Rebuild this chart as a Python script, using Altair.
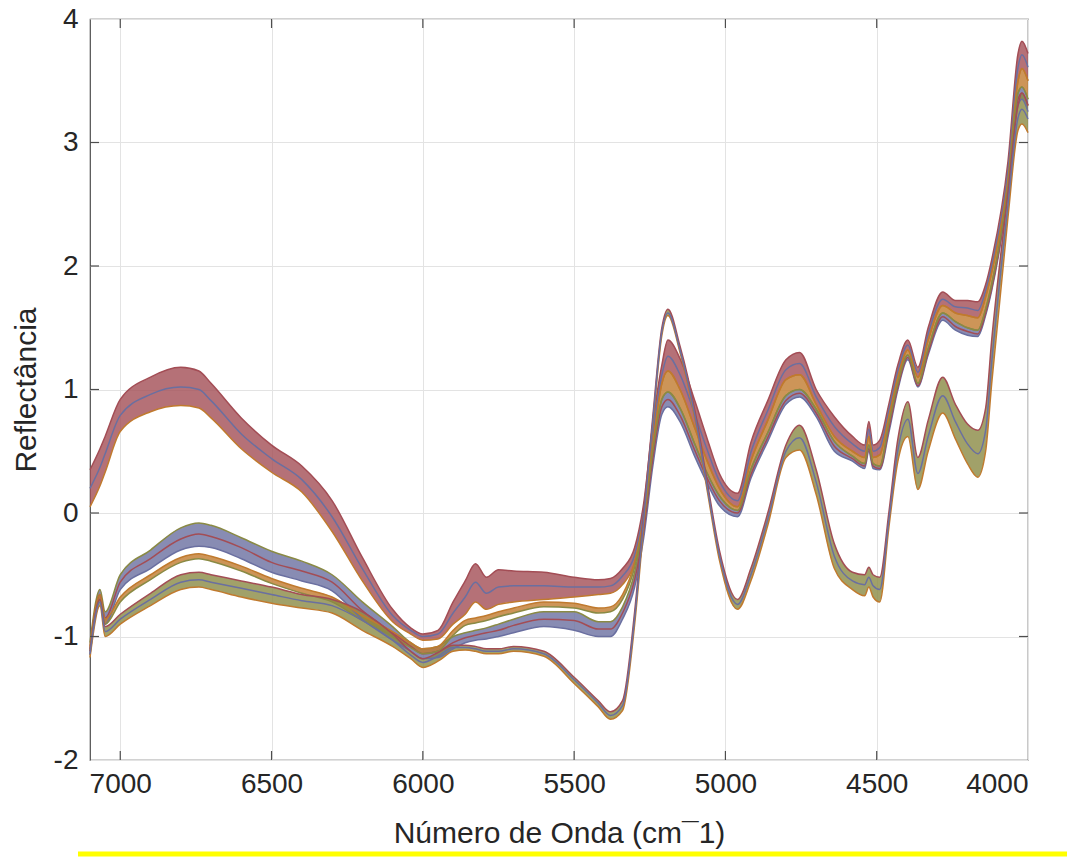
import altair as alt
import pandas as pd

# Wavenumber grid (cm^-1)
WN = [7100, 7067, 7050, 7000, 6900, 6800, 6740, 6700, 6600, 6500, 6400, 6300, 6200, 6100,
      6040, 6000, 5950, 5900, 5860, 5826, 5790, 5750, 5700, 5600, 5500, 5420, 5380, 5340,
      5300, 5270, 5240, 5210, 5190, 5150, 5100, 5060, 5020, 4960, 4916, 4860, 4800, 4755,
      4700, 4640, 4580, 4540, 4526, 4512, 4490, 4460, 4430, 4397, 4364, 4330, 4282, 4240,
      4200, 4166, 4140, 4120, 4066, 4033, 4020, 4000]

# Group A: high on the left, upper cluster with the 5830 bump, top of the upper group on the right
A_HI = [0.35, 0.52, 0.62, 0.92, 1.10, 1.18, 1.15, 1.05, 0.77, 0.55, 0.38, 0.10, -0.36, -0.78,
        -0.93, -0.98, -0.95, -0.72, -0.55, -0.41, -0.52, -0.46, -0.47, -0.48, -0.52, -0.54, -0.53, -0.45,
        -0.28, 0.08, 0.72, 1.20, 1.40, 1.25, 0.90, 0.60, 0.32, 0.16, 0.57, 0.91, 1.24, 1.30,
        1.00, 0.78, 0.62, 0.55, 0.74, 0.55, 0.59, 0.88, 1.20, 1.40, 1.18, 1.50, 1.79, 1.72,
        1.72, 1.71, 1.85, 2.05, 2.85, 3.72, 3.82, 3.72]
A_MID = [0.20, 0.37, 0.48, 0.79, 0.96, 1.02, 1.00, 0.91, 0.64, 0.44, 0.27, -0.03, -0.45, -0.83,
         -0.95, -1.00, -0.98, -0.81, -0.68, -0.56, -0.65, -0.60, -0.59, -0.59, -0.60, -0.60, -0.59, -0.51,
         -0.34, 0.02, 0.63, 1.12, 1.27, 1.12, 0.79, 0.51, 0.26, 0.10, 0.49, 0.83, 1.16, 1.21,
         0.94, 0.70, 0.56, 0.50, 0.68, 0.50, 0.53, 0.83, 1.15, 1.36, 1.14, 1.45, 1.73, 1.67,
         1.66, 1.64, 1.80, 2.00, 2.77, 3.61, 3.71, 3.61]
A_LO = [0.05, 0.22, 0.33, 0.66, 0.82, 0.87, 0.85, 0.77, 0.52, 0.33, 0.17, -0.15, -0.55, -0.88,
        -0.98, -1.03, -1.02, -0.90, -0.82, -0.72, -0.78, -0.74, -0.72, -0.70, -0.68, -0.66, -0.65, -0.58,
        -0.40, -0.05, 0.55, 1.05, 1.15, 1.00, 0.68, 0.42, 0.20, 0.05, 0.42, 0.75, 1.08, 1.12,
        0.88, 0.62, 0.50, 0.45, 0.62, 0.45, 0.47, 0.78, 1.10, 1.32, 1.10, 1.40, 1.68, 1.62,
        1.60, 1.58, 1.75, 1.95, 2.70, 3.50, 3.60, 3.50]

# Group B1: upper lower-left cluster, lower cluster in the middle, bottom of the upper group on the right
B1_HI = [-1.05, -0.62, -0.80, -0.50, -0.30, -0.12, -0.08, -0.10, -0.20, -0.31, -0.39, -0.50, -0.72, -0.92,
         -1.05, -1.10, -1.08, -1.00, -0.97, -0.95, -0.93, -0.90, -0.86, -0.80, -0.80, -0.88, -0.88, -0.76,
         -0.48, -0.08, 0.50, 0.92, 0.98, 0.85, 0.55, 0.32, 0.14, 0.02, 0.35, 0.65, 0.95, 1.00,
         0.84, 0.58, 0.46, 0.40, 0.55, 0.40, 0.38, 0.72, 1.05, 1.28, 1.05, 1.33, 1.62, 1.55,
         1.50, 1.48, 1.65, 1.85, 2.65, 3.40, 3.45, 3.35]
B1_MID = [-1.10, -0.66, -0.85, -0.56, -0.37, -0.21, -0.17, -0.19, -0.28, -0.40, -0.47, -0.56, -0.79, -0.97,
          -1.08, -1.14, -1.12, -1.05, -1.01, -0.99, -0.97, -0.95, -0.91, -0.86, -0.87, -0.94, -0.94, -0.81,
          -0.54, -0.14, 0.44, 0.86, 0.92, 0.79, 0.50, 0.28, 0.10, 0.00, 0.31, 0.61, 0.91, 0.97,
          0.81, 0.54, 0.44, 0.38, 0.52, 0.38, 0.36, 0.68, 1.02, 1.26, 1.03, 1.30, 1.59, 1.51,
          1.47, 1.45, 1.62, 1.82, 2.62, 3.35, 3.40, 3.30]
B1_LO = [-1.15, -0.70, -0.90, -0.62, -0.45, -0.30, -0.27, -0.28, -0.37, -0.48, -0.55, -0.63, -0.86, -1.03,
         -1.12, -1.18, -1.17, -1.10, -1.05, -1.03, -1.02, -1.00, -0.97, -0.92, -0.95, -1.00, -1.00, -0.86,
         -0.60, -0.20, 0.38, 0.80, 0.86, 0.74, 0.45, 0.24, 0.06, -0.03, 0.28, 0.58, 0.88, 0.94,
         0.78, 0.50, 0.42, 0.36, 0.50, 0.36, 0.35, 0.65, 1.00, 1.24, 1.02, 1.28, 1.56, 1.48,
         1.44, 1.43, 1.60, 1.80, 2.60, 3.30, 3.35, 3.25]

# Group B2: single band on the left and in the middle, middle of the upper group on the right
B2_HI = [-1.08, -0.66, -0.86, -0.68, -0.50, -0.36, -0.33, -0.35, -0.43, -0.53, -0.61, -0.68, -0.83, -0.96,
         -1.05, -1.10, -1.08, -0.95, -0.87, -0.85, -0.83, -0.80, -0.77, -0.72, -0.73, -0.77, -0.76, -0.66,
         -0.40, -0.03, 0.55, 1.05, 1.15, 1.00, 0.68, 0.42, 0.20, 0.05, 0.42, 0.75, 1.08, 1.12,
         0.88, 0.62, 0.50, 0.45, 0.62, 0.45, 0.47, 0.78, 1.10, 1.32, 1.10, 1.40, 1.68, 1.62,
         1.60, 1.58, 1.75, 1.95, 2.70, 3.50, 3.60, 3.50]
B2_LO = [-1.12, -0.70, -0.90, -0.72, -0.54, -0.40, -0.37, -0.39, -0.47, -0.57, -0.65, -0.72, -0.87, -1.00,
         -1.09, -1.14, -1.12, -0.99, -0.91, -0.89, -0.87, -0.84, -0.81, -0.76, -0.77, -0.81, -0.80, -0.70,
         -0.44, -0.07, 0.50, 0.92, 0.98, 0.85, 0.55, 0.32, 0.14, 0.02, 0.35, 0.65, 0.95, 1.00,
         0.84, 0.58, 0.46, 0.40, 0.55, 0.40, 0.38, 0.72, 1.05, 1.28, 1.05, 1.33, 1.62, 1.55,
         1.50, 1.48, 1.65, 1.85, 2.65, 3.40, 3.45, 3.35]

# Group C: lower cluster on the left, deep trough at 5380, lower group on the right
C_HI = [-1.12, -0.70, -0.92, -0.82, -0.65, -0.50, -0.48, -0.50, -0.55, -0.60, -0.66, -0.70, -0.80, -0.98,
        -1.12, -1.18, -1.13, -1.07, -1.07, -1.08, -1.10, -1.10, -1.08, -1.12, -1.33, -1.52, -1.61, -1.52,
        -0.80, 0.00, 0.78, 1.50, 1.65, 1.35, 0.82, 0.25, -0.30, -0.70, -0.45, 0.00, 0.55, 0.71,
        0.35, -0.25, -0.48, -0.50, -0.44, -0.50, -0.52, 0.00, 0.60, 0.90, 0.45, 0.75, 1.10, 0.88,
        0.72, 0.67, 0.85, 1.40, 2.60, 3.30, 3.40, 3.30]
C_MID = [-1.14, -0.72, -0.96, -0.86, -0.70, -0.56, -0.54, -0.56, -0.61, -0.66, -0.71, -0.75, -0.87, -1.03,
         -1.15, -1.21, -1.16, -1.09, -1.09, -1.10, -1.12, -1.12, -1.10, -1.14, -1.35, -1.54, -1.64, -1.56,
         -0.85, -0.05, 0.74, 1.47, 1.62, 1.32, 0.78, 0.21, -0.34, -0.74, -0.50, -0.05, 0.50, 0.61,
         0.25, -0.35, -0.55, -0.58, -0.52, -0.59, -0.62, -0.06, 0.51, 0.76, 0.32, 0.62, 0.95, 0.74,
         0.56, 0.48, 0.67, 1.22, 2.50, 3.20, 3.27, 3.19]
C_LO = [-1.17, -0.75, -1.00, -0.90, -0.75, -0.62, -0.60, -0.62, -0.68, -0.73, -0.77, -0.81, -0.95, -1.08,
        -1.18, -1.25, -1.20, -1.12, -1.11, -1.12, -1.14, -1.14, -1.12, -1.16, -1.38, -1.57, -1.67, -1.60,
        -0.90, -0.10, 0.70, 1.44, 1.60, 1.30, 0.75, 0.18, -0.38, -0.78, -0.55, -0.10, 0.45, 0.51,
        0.15, -0.45, -0.62, -0.67, -0.60, -0.68, -0.72, -0.12, 0.42, 0.62, 0.19, 0.50, 0.81, 0.60,
        0.40, 0.29, 0.50, 1.05, 2.40, 3.10, 3.15, 3.08]

GROUPS = ["A", "B1", "B2", "C"]
HI = {"A": A_HI, "B1": B1_HI, "B2": B2_HI, "C": C_HI}
LO = {"A": A_LO, "B1": B1_LO, "B2": B2_LO, "C": C_LO}
MID = {"A": A_MID, "B1": B1_MID, "C": C_MID}

SERIES_COLORS = {
    "A hi": "#7E2F8E", "A mid": "#77AC30", "A lo": "#0072BD",
    "B1 hi": "#4DBEEE", "B1 mid": "#D95319", "B1 lo": "#0072BD",
    "B2 hi": "#EDB120", "B2 lo": "#A2142F",
    "C hi": "#77AC30", "C mid": "#0072BD", "C lo": "#7E2F8E",
}
BAND_COLORS = {"A": "#a34d55", "B1": "#6a6fa0", "B2": "#c07a2e", "C": "#8a8a44"}

X_TICKS = [7000, 6500, 6000, 5500, 5000, 4500, 4000]
Y_TICKS = [-2, -1, 0, 1, 2, 3, 4]
INNER_X = [7000, 6500, 6000, 5500, 5000, 4500]
INNER_Y = [-1, 0, 1, 2, 3]

W, H = 938, 741

band_rows, line_rows = [], []
for g in GROUPS:
    for w, lo, hi in zip(WN, LO[g], HI[g]):
        band_rows.append({"group": g, "wn": w, "lo": lo, "hi": hi})
        line_rows.append({"series": g + " hi", "wn": w, "y": hi})
        line_rows.append({"series": g + " lo", "wn": w, "y": lo})
    if g in MID:
        for w, m in zip(WN, MID[g]):
            line_rows.append({"series": g + " mid", "wn": w, "y": m})
bands = pd.DataFrame(band_rows)
lines = pd.DataFrame(line_rows)

xscale = alt.Scale(domain=[4000, 7100], reverse=True, nice=False, zero=False)
yscale = alt.Scale(domain=[-2, 4], nice=False, zero=False)

hyphen_labels = "datum.value < 0 ? '-' + toString(abs(datum.value)) : toString(datum.value)"

xaxis = alt.Axis(values=X_TICKS, title="Número de Onda (cm¯1)", grid=True, tickSize=0,
                 domain=False, labelPadding=10, titlePadding=20, labelExpr=hyphen_labels)
yaxis = alt.Axis(values=Y_TICKS, title="Reflectância", grid=True, tickSize=0,
                 domain=False, labelPadding=12, labelExpr=hyphen_labels,
                 titleX=-64, titleY=H / 2, titleAngle=270, titleAlign="center", titleBaseline="middle")

base_bands = alt.Chart(bands).mark_area(interpolate="monotone", opacity=0.8).encode(
    x=alt.X("wn:Q", scale=xscale, axis=xaxis),
    y=alt.Y("lo:Q", scale=yscale, axis=yaxis),
    y2="hi:Q",
    color=alt.Color("group:N", scale=alt.Scale(domain=list(BAND_COLORS), range=list(BAND_COLORS.values())), legend=None),
)

base_lines = alt.Chart(lines).mark_line(interpolate="monotone", strokeWidth=1.5).encode(
    x=alt.X("wn:Q", scale=xscale),
    y=alt.Y("y:Q", scale=yscale),
    color=alt.Color("series:N", scale=alt.Scale(domain=list(SERIES_COLORS), range=list(SERIES_COLORS.values())), legend=None),
    detail="series:N",
)

xt = pd.DataFrame({"wn": INNER_X})
yt = pd.DataFrame({"v": INNER_Y})
tick_style = dict(color="#4d4d4d", strokeWidth=1.2)
xt_bot = alt.Chart(xt).mark_rule(**tick_style).encode(x=alt.X("wn:Q", scale=xscale), y=alt.value(H), y2=alt.value(H - 9))
xt_top = alt.Chart(xt).mark_rule(**tick_style).encode(x=alt.X("wn:Q", scale=xscale), y=alt.value(0), y2=alt.value(9))
yt_left = alt.Chart(yt).mark_rule(**tick_style).encode(y=alt.Y("v:Q", scale=yscale), x=alt.value(0), x2=alt.value(9))
yt_right = alt.Chart(yt).mark_rule(**tick_style).encode(y=alt.Y("v:Q", scale=yscale), x=alt.value(W - 9), x2=alt.value(W))

yellow = alt.Chart(pd.DataFrame({"k": [0]})).mark_rule(color="#ffff00", strokeWidth=5).encode(
    x=alt.value(-12), x2=alt.value(977), y=alt.value(835))

chart = alt.layer(base_bands, base_lines, xt_bot, xt_top, yt_left, yt_right, yellow).properties(
    width=W, height=H,
    autosize=alt.AutoSizeParams(type="none"),
    padding={"left": 90, "top": 19, "right": 39, "bottom": 99},
).configure_view(stroke="#4d4d4d", strokeWidth=1.2).configure_axis(
    labelFont="Liberation Sans", titleFont="Liberation Sans",
    labelFontSize=28, titleFontSize=30, labelColor="#262626", titleColor="#262626",
    titleFontWeight="normal", gridColor="#e3e3e3", gridWidth=1,
)

chart.save("out.html", embed_options={"renderer": "svg", "actions": False})
